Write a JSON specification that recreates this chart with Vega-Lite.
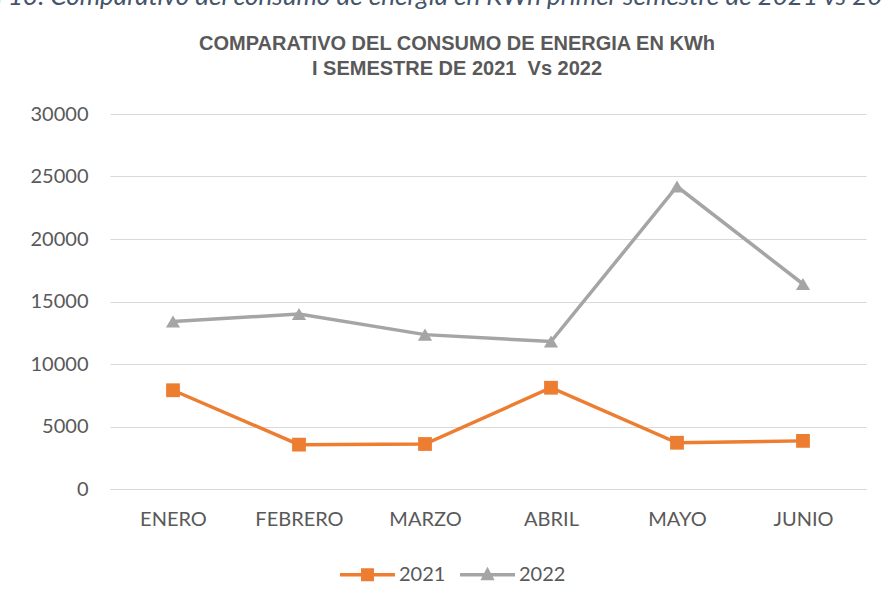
{
  "$schema": "https://vega.github.io/schema/vega-lite/v6.json",
  "width": 756,
  "height": 375,
  "autosize": {"type": "none"},
  "padding": {"left": 110, "top": 114, "right": 16, "bottom": 117},
  "background": "white",
  "title": {
    "text": ["COMPARATIVO DEL CONSUMO DE ENERGIA EN KWh", "I SEMESTRE DE 2021\u00a0 Vs 2022"],
    "font": "Liberation Sans",
    "fontSize": 20,
    "fontWeight": "bold",
    "color": "#595959",
    "anchor": "middle",
    "frame": "group",
    "dx": -31,
    "offset": -96,
    "lineHeight": 25
  },
  "data": {
    "values": [
      {"mes": "ENERO", "anio": "2021", "kwh": 7900},
      {"mes": "FEBRERO", "anio": "2021", "kwh": 3550},
      {"mes": "MARZO", "anio": "2021", "kwh": 3600},
      {"mes": "ABRIL", "anio": "2021", "kwh": 8100},
      {"mes": "MAYO", "anio": "2021", "kwh": 3700},
      {"mes": "JUNIO", "anio": "2021", "kwh": 3850},
      {"mes": "ENERO", "anio": "2022", "kwh": 13400},
      {"mes": "FEBRERO", "anio": "2022", "kwh": 14000},
      {"mes": "MARZO", "anio": "2022", "kwh": 12350},
      {"mes": "ABRIL", "anio": "2022", "kwh": 11800},
      {"mes": "MAYO", "anio": "2022", "kwh": 24200},
      {"mes": "JUNIO", "anio": "2022", "kwh": 16400}
    ]
  },
  "encoding": {
    "x": {
      "field": "mes",
      "type": "nominal",
      "sort": ["ENERO", "FEBRERO", "MARZO", "ABRIL", "MAYO", "JUNIO"],
      "scale": {"type": "point", "padding": 0.5},
      "axis": {
        "title": null,
        "labelAngle": 0,
        "labelFont": "Lato",
        "labelFontSize": 20,
        "labelColor": "#595959",
        "labelPadding": 20,
        "ticks": false,
        "domainColor": "#D9D9D9",
        "domainWidth": 1,
        "grid": false
      }
    },
    "y": {
      "field": "kwh",
      "type": "quantitative",
      "scale": {"domain": [0, 30000], "nice": false},
      "axis": {
        "values": [0, 5000, 10000, 15000, 20000, 25000, 30000],
        "format": "d",
        "labelFont": "Lato",
        "labelFontSize": 20,
        "labelColor": "#595959",
        "labelPadding": 22,
        "ticks": false,
        "domain": false,
        "grid": true,
        "gridColor": "#D9D9D9",
        "gridWidth": 1,
        "title": "Figura 13. Comparativo del consumo de energía en KWh primer semestre de 2021 vs 2022",
        "titleAngle": 0,
        "titleAlign": "left",
        "titleBaseline": "alphabetic",
        "titleX": -176,
        "titleY": -110,
        "titleFont": "Lato",
        "titleFontStyle": "italic",
        "titleFontWeight": "normal",
        "titleFontSize": 26,
        "titleColor": "#44546A"
      }
    },
    "color": {
      "field": "anio",
      "type": "nominal",
      "scale": {"domain": ["2021", "2022"], "range": ["#ED7D31", "#A5A5A5"]},
      "legend": {
        "title": null,
        "orient": "none",
        "direction": "horizontal",
        "legendX": 230,
        "legendY": 433,
        "symbolSize": 3025,
        "labelFont": "Lato",
        "labelFontSize": 20,
        "labelColor": "#595959",
        "labelOffset": 4,
        "columnPadding": 14,
        "encode": {
          "symbols": {
            "update": {
              "shape": [
                {"test": "datum.value === '2021'", "value": "M-1,-0.064H1V0.064H-1Z M-0.236,-0.236H0.236V0.236H-0.236Z"},
                {"value": "M-1,-0.064H1V0.064H-1Z M0,-0.29L0.26,0.2H-0.26Z"}
              ],
              "fill": [
                {"test": "datum.value === '2021'", "value": "#ED7D31"},
                {"value": "#A5A5A5"}
              ],
              "stroke": {"value": "transparent"},
              "strokeWidth": {"value": 0},
              "opacity": {"value": 1},
              "fillOpacity": {"value": 1}
            }
          }
        }
      }
    }
  },
  "layer": [
    {
      "mark": {"type": "line", "strokeWidth": 3.5}
    },
    {
      "transform": [{"filter": "datum.anio === '2021'"}],
      "mark": {"type": "point", "filled": true, "opacity": 1, "size": 190, "shape": "square"}
    },
    {
      "transform": [{"filter": "datum.anio === '2022'"}],
      "mark": {"type": "point", "filled": true, "opacity": 1, "size": 200, "shape": "triangle-up"}
    }
  ],
  "config": {
    "view": {"stroke": null}
  }
}
